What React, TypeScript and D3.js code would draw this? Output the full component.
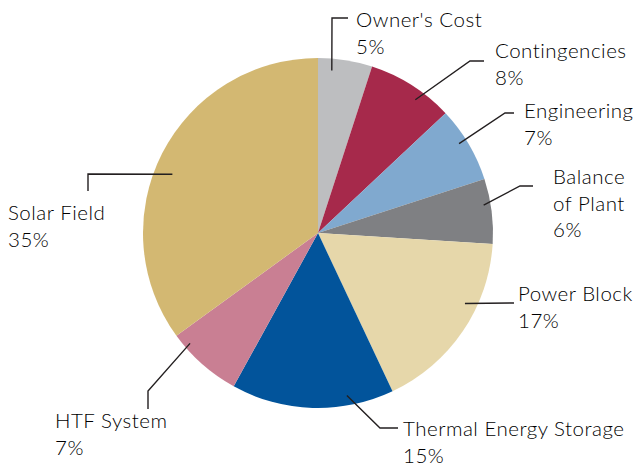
import { useEffect, useRef } from 'react';
import * as d3 from 'd3';

const categories = [
  "Owner's Cost",
  'Contingencies',
  'Engineering',
  'Balance of Plant',
  'Power Block',
  'Thermal Energy Storage',
  'HTF System',
  'Solar Field',
];
const shares = [5, 8, 7, 6, 17, 15, 7, 35];
const colors = ['#bdbec0', '#a6294b', '#80a9cf', '#7f8083', '#e6d7aa', '#02549b', '#c97f93', '#d3b872'];
// label text lines (name may wrap)
const labelLines = [
  ["Owner's Cost"],
  ['Contingencies'],
  ['Engineering'],
  ['Balance', 'of Plant'],
  ['Power Block'],
  ['Thermal Energy Storage'],
  ['HTF System'],
  ['Solar Field'],
];

// leader layout: where along slice (0..1) and radius the line starts, elbow, end, text position
const leaders = [
  { t: 0.27, r: 163, pts: [[332, 18], [348, 18]], tx: 356, ty: 27 },
  { t: 0.63, r: 165, pts: [[470, 61], [484, 61]], tx: 495, ty: 58 },
  { t: 0.43, r: 167, pts: [[505, 113], [514, 113]], tx: 524, ty: 118 },
  { t: 0.39, r: 168, pts: [[520, 186], [533, 186]], tx: 553, ty: 184 },
  { t: 0.36, r: 163, pts: [[514, 303]], tx: 518, ty: 301 },
  { t: 0.28, r: 165, pts: [[380, 428], [398, 428]], tx: 403, ty: 436 },
  { t: 0.81, r: 169, pts: [[148, 391], [148, 409]], tx: 55, ty: 428 },
  { t: 0.46, r: 157, pts: [[88, 174], [88, 191]], tx: 8, ty: 220 },
];

const width = 635;
const height = 465;
const cx = 318;
const cy = 233;
const radius = 175;

export default function App() {
  const svgRef = useRef<SVGSVGElement>(null);

  useEffect(() => {
    if (!svgRef.current) return;
    const svg = d3.select(svgRef.current);
    svg.selectAll('*').remove();

    const pie = d3.pie<number>().sort(null).value(d => d);
    const arcs = pie(shares);
    const arc = d3.arc<d3.PieArcDatum<number>>().innerRadius(0).outerRadius(radius);

    const g = svg.append('g').attr('transform', `translate(${cx},${cy})`);
    g.selectAll('path')
      .data(arcs)
      .enter()
      .append('path')
      .attr('d', arc)
      .attr('fill', (_, i) => colors[i]);

    const line = d3.line();
    arcs.forEach((a, i) => {
      const L = leaders[i];
      const ang = a.startAngle + (a.endAngle - a.startAngle) * L.t;
      const sx = cx + L.r * Math.sin(ang);
      const sy = cy - L.r * Math.cos(ang);
      const pts: [number, number][] = [[sx, sy], ...(L.pts as [number, number][])];
      svg.append('path')
        .attr('d', line(pts))
        .attr('fill', 'none')
        .attr('stroke', '#231f20')
        .attr('stroke-width', 1.4);

      const lines = [...labelLines[i], `${shares[i]}%`];
      const text = svg.append('text')
        .attr('x', L.tx)
        .attr('y', L.ty)
        .attr('font-family', 'Lato, sans-serif')
        .attr('font-weight', 300)
        .attr('font-size', '20.5px')
        .attr('letter-spacing', '0.5px')
        .attr('fill', '#000');
      lines.forEach((s, k) => {
        text.append('tspan')
          .attr('x', L.tx)
          .attr('dy', k === 0 ? 0 : 26.5)
          .text(s);
      });
    });
  }, []);

  return (
    <div style={{ position: 'absolute', left: 0, top: 0, background: '#fff' }}>
      <svg ref={svgRef} width={width} height={height} />
    </div>
  );
}
